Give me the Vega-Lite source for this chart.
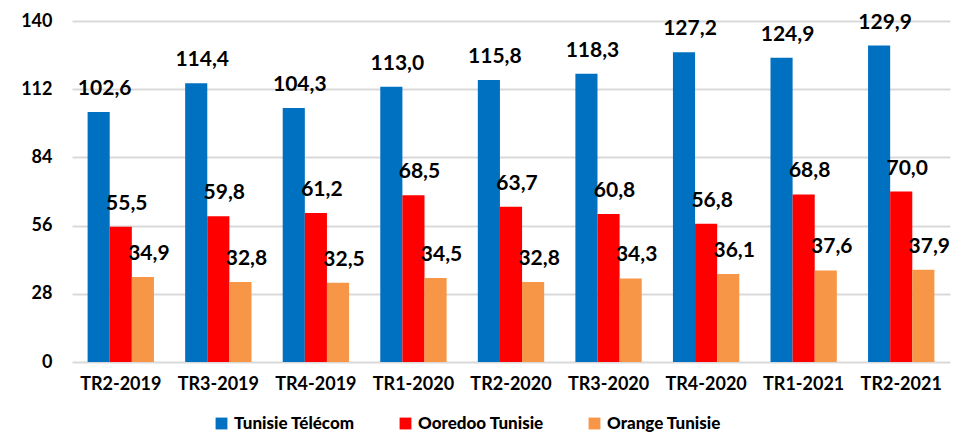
{
  "$schema": "https://vega.github.io/schema/vega-lite/v6.json",
  "width": 878,
  "height": 341,
  "autosize": {"type": "none"},
  "padding": {"left": 72, "top": 21, "right": 10, "bottom": 77},
  "background": "white",
  "data": {
    "values": [
      {"q": "TR2-2019", "op": "Tunisie Télécom", "v": 102.6},
      {"q": "TR2-2019", "op": "Ooredoo Tunisie", "v": 55.5},
      {"q": "TR2-2019", "op": "Orange Tunisie", "v": 34.9},
      {"q": "TR3-2019", "op": "Tunisie Télécom", "v": 114.4},
      {"q": "TR3-2019", "op": "Ooredoo Tunisie", "v": 59.8},
      {"q": "TR3-2019", "op": "Orange Tunisie", "v": 32.8},
      {"q": "TR4-2019", "op": "Tunisie Télécom", "v": 104.3},
      {"q": "TR4-2019", "op": "Ooredoo Tunisie", "v": 61.2},
      {"q": "TR4-2019", "op": "Orange Tunisie", "v": 32.5},
      {"q": "TR1-2020", "op": "Tunisie Télécom", "v": 113.0},
      {"q": "TR1-2020", "op": "Ooredoo Tunisie", "v": 68.5},
      {"q": "TR1-2020", "op": "Orange Tunisie", "v": 34.5},
      {"q": "TR2-2020", "op": "Tunisie Télécom", "v": 115.8},
      {"q": "TR2-2020", "op": "Ooredoo Tunisie", "v": 63.7},
      {"q": "TR2-2020", "op": "Orange Tunisie", "v": 32.8},
      {"q": "TR3-2020", "op": "Tunisie Télécom", "v": 118.3},
      {"q": "TR3-2020", "op": "Ooredoo Tunisie", "v": 60.8},
      {"q": "TR3-2020", "op": "Orange Tunisie", "v": 34.3},
      {"q": "TR4-2020", "op": "Tunisie Télécom", "v": 127.2},
      {"q": "TR4-2020", "op": "Ooredoo Tunisie", "v": 56.8},
      {"q": "TR4-2020", "op": "Orange Tunisie", "v": 36.1},
      {"q": "TR1-2021", "op": "Tunisie Télécom", "v": 124.9},
      {"q": "TR1-2021", "op": "Ooredoo Tunisie", "v": 68.8},
      {"q": "TR1-2021", "op": "Orange Tunisie", "v": 37.6},
      {"q": "TR2-2021", "op": "Tunisie Télécom", "v": 129.9},
      {"q": "TR2-2021", "op": "Ooredoo Tunisie", "v": 70.0},
      {"q": "TR2-2021", "op": "Orange Tunisie", "v": 37.9}
    ]
  },
  "encoding": {
    "x": {
      "field": "q", "type": "nominal", "sort": null,
      "scale": {"paddingInner": 0.32, "paddingOuter": 0.16},
      "axis": {"title": null, "labelAngle": 0, "ticks": false, "domain": false,
               "labelFont": "Lato", "labelFontWeight": "bold", "labelFontSize": 18,
               "labelColor": "#000000", "labelPadding": 13}
    },
    "xOffset": {"field": "op", "type": "nominal",
      "sort": ["Tunisie Télécom", "Ooredoo Tunisie", "Orange Tunisie"],
      "scale": {"paddingInner": 0, "paddingOuter": 0}},
    "y": {
      "field": "v", "type": "quantitative",
      "scale": {"domain": [0, 140], "nice": false},
      "axis": {"title": null, "values": [0, 28, 56, 84, 112, 140], "ticks": false, "domain": false,
               "grid": true, "gridColor": "#d9d9d9", "gridWidth": 2,
               "labelFont": "Lato", "labelFontWeight": "bold", "labelFontSize": 18,
               "labelColor": "#000000", "labelPadding": 20}
    }
  },
  "layer": [
    {
      "mark": {"type": "bar"},
      "encoding": {
        "color": {
          "field": "op", "type": "nominal",
          "scale": {"domain": ["Tunisie Télécom", "Ooredoo Tunisie", "Orange Tunisie"],
                    "range": ["#0070C0", "#FF0000", "#F79646"]},
          "legend": {"title": null, "orient": "none", "legendX": 141, "legendY": 394,
                     "direction": "horizontal", "gridAlign": "none",
                     "symbolType": "square", "symbolSize": 140, "symbolStrokeWidth": 0,
                     "labelFont": "Lato", "labelFontWeight": 900, "labelFontSize": 17, "labelLimit": 300,
                     "labelColor": "#000000", "columnPadding": 42, "labelOffset": 4}
        }
      }
    },
    {
      "mark": {"type": "text", "font": "Lato", "fontWeight": "bold", "fontSize": 21,
               "color": "#000000", "baseline": "middle", "dy": -23, "dx": 6},
      "encoding": {
        "text": {"field": "v", "type": "quantitative", "format": ".1f"}
      }
    }
  ],
  "config": {
    "view": {"stroke": null},
    "locale": {"number": {"decimal": ",", "thousands": " ", "grouping": [3], "currency": ["", ""]}}
  }
}
